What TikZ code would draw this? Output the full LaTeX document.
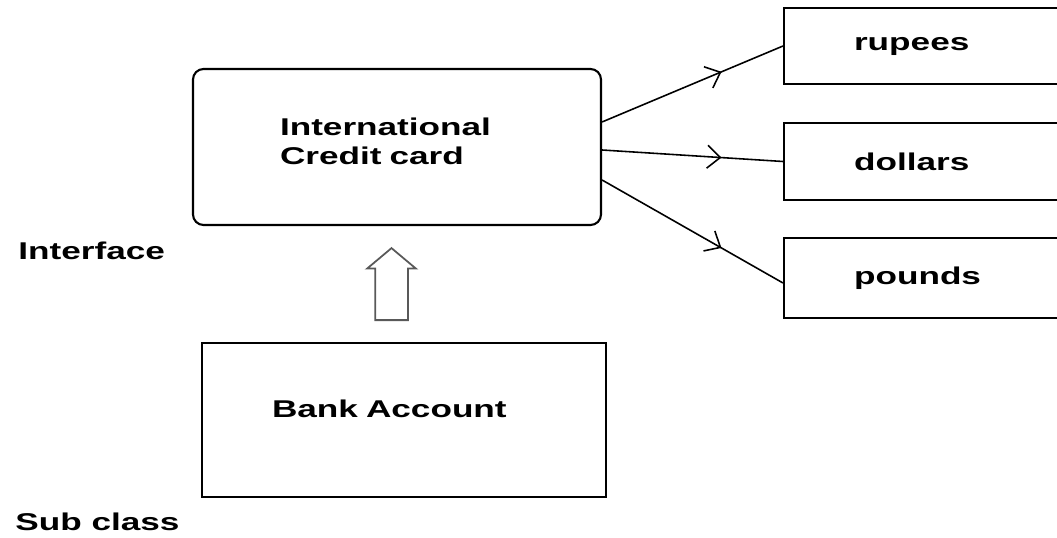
\documentclass[tikz,border=0pt]{standalone}
\usepackage{fontspec}
\setmainfont{Liberation Sans}[FakeStretch=1.45]
\usetikzlibrary{arrows.meta,positioning,shapes.arrows,decorations.markings,calc}
\tikzset{
  cbox/.style={rectangle, draw=black, line width=1.2pt, align=left,
               font=\fontsize{13.8}{16.5}\selectfont\bfseries},
  ctxt/.style={inner sep=0pt, font=\fontsize{13.8}{16.5}\selectfont\bfseries},
  carr/.style={line width=0.9pt, postaction={decorate},
               decoration={markings, mark=at position 0.66 with {\arrow{Straight Barb[length=2.6mm,width=4.6mm,line width=0.9pt]}}}},
}

\begin{document}
\begin{tikzpicture}
        \useasboundingbox (0,0) rectangle (21.14,10.74);
        \node[cbox, rounded corners=6pt, minimum width=8.16cm, minimum height=3.12cm, text width=4.68cm, inner xsep=1.74cm, text depth=0.82cm](card) at (7.94,7.80){International\\Credit card};
        \node[cbox, minimum width=8.08cm, minimum height=3.08cm, text width=5.28cm, inner xsep=1.4cm, text depth=0.45cm](bank) at (8.08,2.34){Bank Account};
        \node[cbox, anchor=west, minimum height=1.52cm, text width=2.8cm, inner xsep=1.4cm](rupees) at (15.66,9.82){rupees};
        \node[cbox, anchor=west, minimum height=1.54cm, text width=2.8cm, inner xsep=1.4cm](dollars) at (15.66,7.51){dollars};
        \node[cbox, anchor=west, minimum height=1.60cm, text width=2.8cm, inner xsep=1.4cm](pounds) at (15.66,5.18){pounds};
        \node[single arrow, draw=black!65, line width=1pt, rotate=90, minimum height=1.44cm, inner xsep=0pt, inner ysep=0.31cm,
              single arrow head extend=0.16cm, single arrow head indent=0pt, single arrow tip angle=100](inh) at (7.83,4.92){};
        \node[ctxt, anchor=west](iface) at (0.36,5.72){Interface};
        \node[ctxt, anchor=west](sub) at (0.30,0.30){Sub class};
        \draw[carr]($(card.east)+(0,0.5)$)--(rupees.west);
        \draw[carr]($(card.east)+(0,-0.06)$)--(dollars.west);
        \draw[carr]($(card.east)+(0,-0.66)$)--($(pounds.west)+(0,-0.1)$);
    \end{tikzpicture}
\end{document}
